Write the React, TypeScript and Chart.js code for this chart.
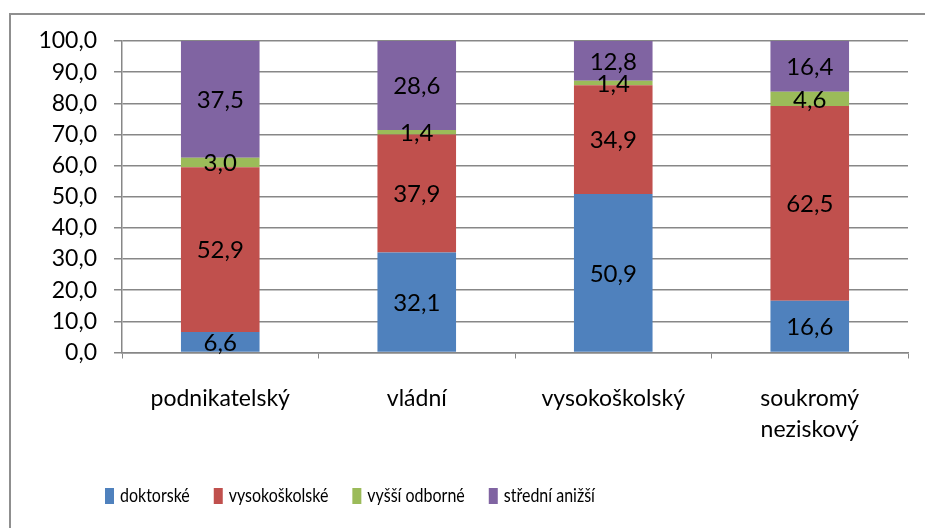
import React, { useEffect, useRef } from "react";
import { Chart, registerables } from "chart.js";

Chart.register(...registerables);

const categories: string[][] = [["podnikatelský"], ["vládní"], ["vysokoškolský"], ["soukromý", "neziskový"]];
const seriesNames = ["doktorské", "vysokoškolské", "vyšší odborné", "střední anižší"];
const doktorske = [6.6, 32.1, 50.9, 16.6];
const vysokoskolske = [52.9, 37.9, 34.9, 62.5];
const vyssiOdborne = [3.0, 1.4, 1.4, 4.6];
const stredniANizsi = [37.5, 28.6, 12.8, 16.4];
const yMin = 0;
const yMax = 100;
const yStep = 10;

const colors = ["#4F81BD", "#C0504D", "#9BBB59", "#8064A2"];
const FONT = "Lato, 'Open Sans', 'DejaVu Sans', sans-serif";
const fmt = (v: number) => v.toFixed(1).replace(".", ",");

const framePlugin = {
  id: "frame",
  beforeDraw(chart: any) {
    const ctx = chart.ctx;
    ctx.save();
    ctx.fillStyle = "#ffffff";
    ctx.fillRect(0, 0, chart.width, chart.height);
    ctx.strokeStyle = "#8f8f8f";
    ctx.lineWidth = 2;
    ctx.beginPath();
    ctx.moveTo(10, chart.height + 2);
    ctx.lineTo(10, 14);
    ctx.lineTo(chart.width + 2, 14);
    ctx.stroke();
    ctx.restore();
  },
};

const labelPlugin = {
  id: "segLabels",
  afterDatasetsDraw(chart: any) {
    const ctx = chart.ctx;
    ctx.save();
    ctx.font = `24px ${FONT}`;
    ctx.fillStyle = "#000000";
    ctx.textAlign = "center";
    ctx.textBaseline = "middle";
    chart.data.datasets.forEach((ds: any, i: number) => {
      const meta = chart.getDatasetMeta(i);
      meta.data.forEach((el: any, j: number) => {
        const v = ds.data[j];
        const y = (el.y + el.base) / 2;
        ctx.fillText(fmt(v), el.x, y + 1);
      });
    });
    ctx.restore();
  },
};

const legendPlugin = {
  id: "customLegend",
  afterDraw(chart: any) {
    const ctx = chart.ctx;
    ctx.save();
    ctx.font = `20px ${FONT}`;
    ctx.textBaseline = "middle";
    ctx.textAlign = "left";
    const squeeze = 0.8;
    let x = 105;
    const cy = 496;
    chart.data.datasets.forEach((ds: any) => {
      ctx.fillStyle = ds.backgroundColor;
      ctx.fillRect(x, cy - 8, 9, 16);
      ctx.fillStyle = "#000000";
      ctx.save();
      ctx.translate(x + 15, cy);
      ctx.scale(squeeze, 1);
      ctx.fillText(ds.label, 0, 0);
      ctx.restore();
      x += 15 + ctx.measureText(ds.label).width * squeeze + 24;
    });
    ctx.restore();
  },
};

export default function App() {
  const ref = useRef<HTMLCanvasElement>(null);
  useEffect(() => {
    if (!ref.current) return;
    const seriesData = [doktorske, vysokoskolske, vyssiOdborne, stredniANizsi];
    const chart = new Chart(ref.current, {
      type: "bar",
      data: {
        labels: categories,
        datasets: seriesData.map((d, i) => ({
          label: seriesNames[i],
          data: d,
          backgroundColor: colors[i],
          borderWidth: 0,
          barPercentage: 0.4,
          categoryPercentage: 1,
        })),
      },
      options: {
        animation: false,
        responsive: false,
        layout: { padding: { top: 41, right: 17, left: 0, bottom: 0 } },
        plugins: { legend: { display: false }, tooltip: { enabled: false } },
        scales: {
          x: {
            stacked: true,
            grid: { display: true, drawOnChartArea: false, drawTicks: true, tickLength: 6, color: "#878787", offset: true },
            border: { display: true, color: "#878787", width: 1.5 },
            ticks: { color: "#000", font: { family: FONT, size: 23, lineHeight: 1.35 }, padding: 25, maxRotation: 0, autoSkip: false },
            afterFit: (s: any) => { s.height = 528 - 352.5; },
          },
          y: {
            stacked: true,
            min: yMin,
            max: yMax,
            grid: { color: "#878787", lineWidth: 1.5, tickLength: 8 },
            border: { display: true, color: "#878787", width: 1.5 },
            ticks: { stepSize: yStep, color: "#000", font: { family: FONT, size: 23 }, padding: 17, callback: (v: any) => fmt(Number(v)) },
            afterFit: (s: any) => { s.width = 122; },
          },
        },
      },
      plugins: [framePlugin, labelPlugin, legendPlugin],
    });
    return () => chart.destroy();
  }, []);
  return (
    <div style={{ position: "absolute", left: 0, top: 0, width: 925, height: 528 }}>
      <canvas ref={ref} width={925} height={528} style={{ display: "block" }} />
    </div>
  );
}
